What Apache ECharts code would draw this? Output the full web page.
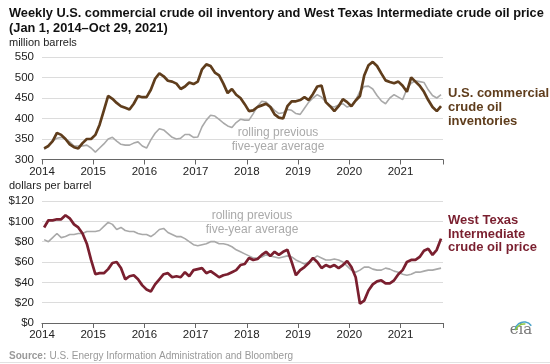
<!DOCTYPE html>
<html><head><meta charset="utf-8">
<script src="https://cdn.jsdelivr.net/npm/echarts@6/dist/echarts.min.js"></script>
<style>html,body{margin:0;padding:0;background:#fff}#c{width:550px;height:364px}</style>
</head><body><div id="c"></div>
<script>
// Monthly readings, Jan 2014 .. Oct 2021
var startYear = 2014;
var yearTicks = ['2014','2015','2016','2017','2018','2019','2020','2021'];
var inventory = [
 327,333,345,365,360,350,337,330,327,340,350,350,
 360,385,420,455,448,438,430,426,422,436,455,452,
 452,470,497,510,503,492,490,485,472,478,488,484,
 490,520,532,528,512,505,485,462,472,458,450,435,
 418,420,428,432,436,428,410,402,400,430,442,442,
 445,452,445,460,478,480,440,430,418,430,447,440,
 430,444,455,505,530,538,528,510,493,489,486,490,
 480,465,500,490,480,465,445,428,418,430];
var inventoryAvg = [
 325,333,345,352,354,350,343,333,333,333,335,328,
 318,328,338,350,354,345,337,335,335,340,343,333,
 328,348,364,375,372,363,354,350,352,361,361,354,
 355,380,396,408,406,398,389,382,378,390,398,396,
 396,412,430,442,440,430,420,412,414,422,420,412,
 410,425,440,450,458,452,440,430,428,433,436,428,
 432,445,466,478,479,472,456,443,436,450,458,452,
 446,472,486,492,490,488,470,456,450,458];
var wti = [
 94,101,101,102,102,106,103,97,94,88,78,62,
 48,49,49,53,59,60,54,43,46,47,43,37,
 33,31,38,43,48,49,45,46,45,50,46,52,
 53,54,49,51,48,45,47,48,50,52,57,58,
 64,62,63,67,70,66,70,67,70,72,60,47,
 52,55,59,64,60,54,57,55,57,54,57,61,
 55,45,19,22,32,38,41,42,39,39,42,48,
 52,60,62,62,65,71,73,67,72,83];
var wtiAvg = [
 82,80,84,88,84,85,87,87,88,88,90,90,
 90,91,95,99,97,92,94,91,90,90,88,87,
 87,85,88,92,93,89,87,85,85,83,80,77,
 76,77,78,80,80,78,78,77,75,72,70,68,
 66,64,64,65,67,66,65,64,65,66,65,62,
 60,58,60,63,66,64,62,62,63,62,60,56,
 52,50,52,55,55,53,52,52,54,53,51,50,
 48,47,48,50,50,51,52,52,53,54];

function pts(arr){ return arr.map(function(v,i){ return [startYear + (i+0.5)/12, v]; }); }

var chart = echarts.init(document.getElementById('c'), null, {renderer:'canvas'});
var FONT = 'Liberation Sans, Arial, sans-serif';
var brown = '#5f3d1c', red = '#7a1f2f', gray = '#a9a9a9';
var xMax = 2021.83;
function xAxis(idx){
  return {type:'value', gridIndex:idx, min:2014, max:xMax, interval:1,
    axisLine:{show:true, lineStyle:{color:'#666', width:1.2}},
    axisTick:{show:true, length:5, lineStyle:{color:'#666'}},
    splitLine:{show:false},
    axisLabel:{color:'#222', fontSize:11.5, fontFamily:FONT, margin:6,
      formatter:function(v){ var s=String(Math.round(v)); return yearTicks.indexOf(s)>=0 && Math.abs(v-Math.round(v))<1e-6 ? s : ''; }}};
}
chart.setOption({
  animation:false,
  grid:[{left:42, right:107, top:57, height:102.5},{left:42, right:107, top:201, height:122}],
  xAxis:[xAxis(0), xAxis(1)],
  yAxis:[
    {type:'value', gridIndex:0, min:300, max:550, interval:50,
     axisLine:{show:false}, axisTick:{show:false},
     splitLine:{lineStyle:{color:'#dcdcdc', width:1}},
     axisLabel:{color:'#222', fontSize:11.5, fontFamily:FONT, margin:8}},
    {type:'value', gridIndex:1, min:0, max:120, interval:20,
     axisLine:{show:false}, axisTick:{show:false},
     splitLine:{lineStyle:{color:'#dcdcdc', width:1}},
     axisLabel:{color:'#222', fontSize:11.5, fontFamily:FONT, margin:8,
       formatter:function(v){return '$'+v;}}}
  ],
  series:[
    {type:'line', xAxisIndex:0, yAxisIndex:0, data:pts(inventoryAvg), showSymbol:false,
     lineStyle:{color:gray, width:1.6}, z:2},
    {type:'line', xAxisIndex:0, yAxisIndex:0, data:pts(inventory), showSymbol:false,
     lineStyle:{color:brown, width:2.7}, z:3},
    {type:'line', xAxisIndex:1, yAxisIndex:1, data:pts(wtiAvg), showSymbol:false,
     lineStyle:{color:gray, width:1.6}, z:2},
    {type:'line', xAxisIndex:1, yAxisIndex:1, data:pts(wti), showSymbol:false,
     lineStyle:{color:red, width:2.7}, z:3}
  ],
  graphic:[
    {type:'text', left:9, top:7, style:{text:'Weekly U.S. commercial crude oil inventory and West Texas Intermediate crude oil price', font:'bold 12.8px '+FONT, fill:'#111'}},
    {type:'text', left:9, top:22, style:{text:'(Jan 1, 2014\u2013Oct 29, 2021)', font:'bold 12.8px '+FONT, fill:'#111'}},
    {type:'text', left:9, top:37, style:{text:'million barrels', font:'11px '+FONT, fill:'#222'}},
    {type:'text', left:9, top:180, style:{text:'dollars per barrel', font:'11px '+FONT, fill:'#222'}},
    {type:'text', left:448, top:86, style:{text:'U.S. commercial\ncrude oil\ninventories', font:'bold 13px '+FONT, fill:brown, lineHeight:14}},
    {type:'text', left:448, top:214, style:{text:'West Texas\nIntermediate\ncrude oil price', font:'bold 13px '+FONT, fill:red, lineHeight:13.5}},
    {type:'text', x:278, y:126, style:{text:'rolling previous\nfive-year average', font:'12px '+FONT, fill:'#aaaaaa', align:'center', lineHeight:13.5}},
    {type:'text', x:252, y:209, style:{text:'rolling previous\nfive-year average', font:'12px '+FONT, fill:'#aaaaaa', align:'center', lineHeight:13.5}},
    {type:'text', left:9, top:350, style:{rich:{b:{font:'bold 10px '+FONT, fill:'#999'}, n:{font:'10px '+FONT, fill:'#999'}}, text:'{b|Source:} {n|U.S. Energy Information Administration and Bloomberg}'}},
    {type:'line', shape:{x1:0, y1:362.5, x2:550, y2:362.5}, style:{stroke:'#e2e2e2', lineWidth:1}},
    {type:'text', x:521, y:330, style:{text:'eia', font:'15px DejaVu Serif, serif', fill:'#777', align:'center', verticalAlign:'middle'}},
    {type:'arc', shape:{cx:524, cy:331, r:9, startAngle:-Math.PI*0.95, endAngle:-Math.PI*0.2}, style:{stroke:'#4aa3c9', lineWidth:1.5, fill:null}},
    {type:'arc', shape:{cx:524, cy:333, r:9, startAngle:-Math.PI*0.9, endAngle:-Math.PI*0.45}, style:{stroke:'#8cc63f', lineWidth:1.5, fill:null}}
  ]
});
</script></body></html>
